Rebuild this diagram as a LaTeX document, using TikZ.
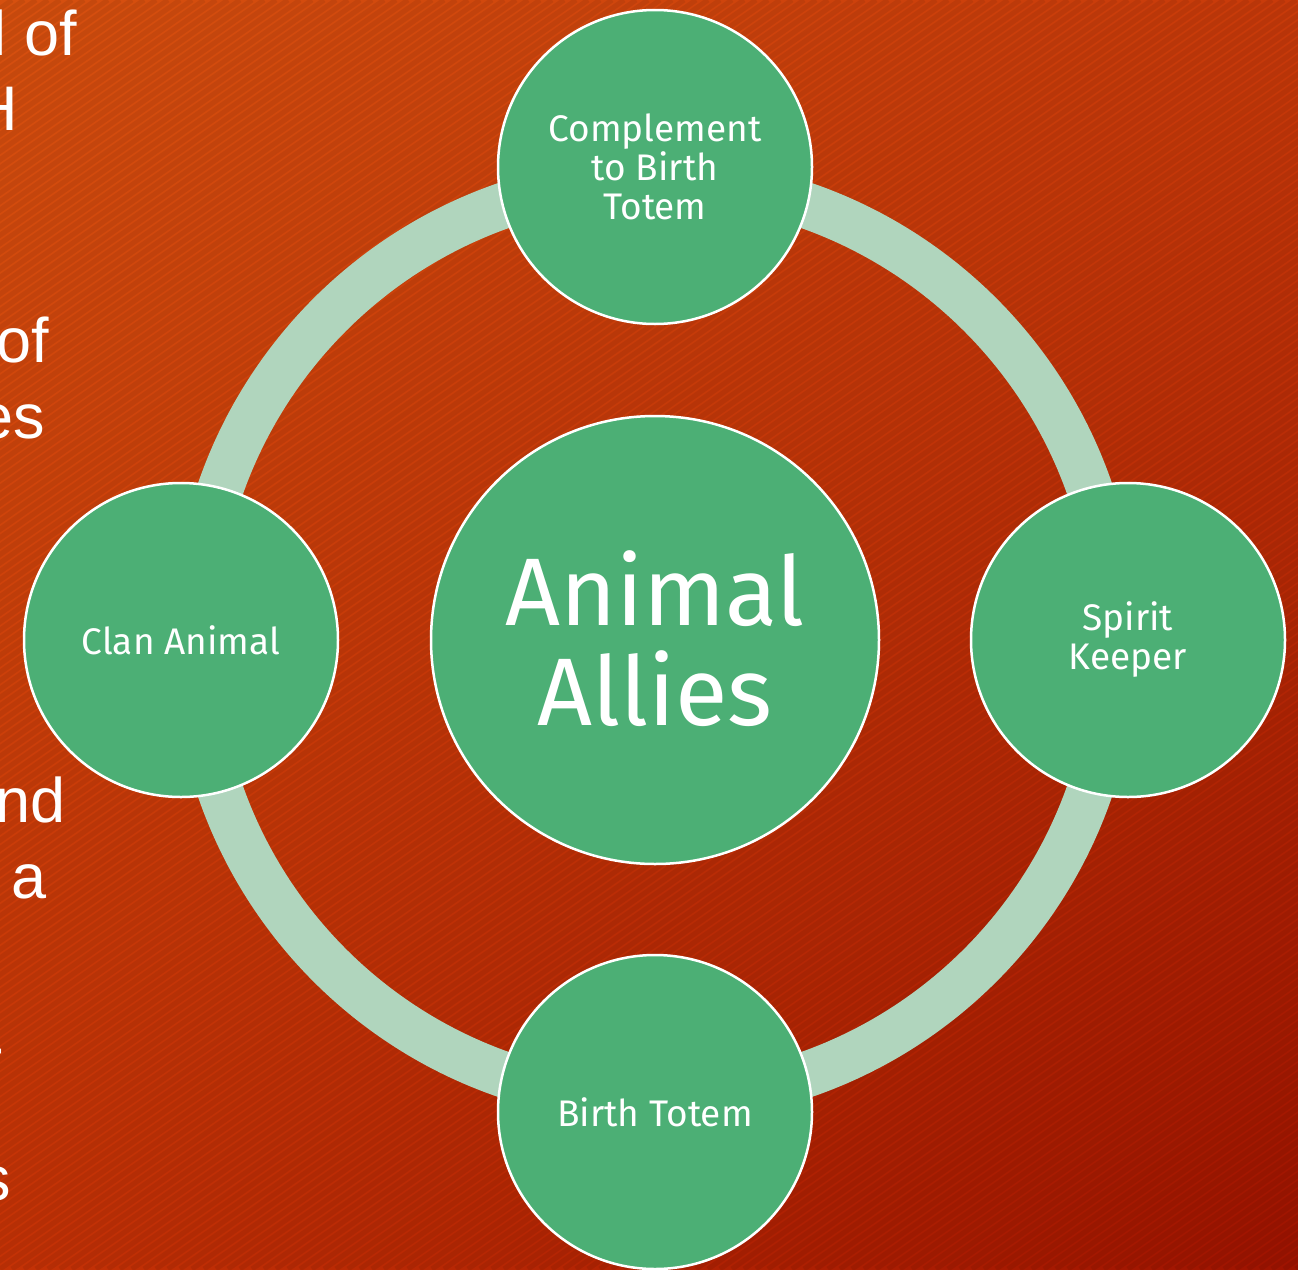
\documentclass[tikz,border=0pt]{standalone}
\usepackage{fontspec}
\usetikzlibrary{shadings}
\setmainfont{Fira Sans}
\newfontfamily\leftfont{Liberation Sans}
\definecolor{bgUL}{HTML}{D6500F}
\definecolor{bgUR}{HTML}{C83A0A}
\definecolor{bgLL}{HTML}{C43206}
\definecolor{bgLR}{HTML}{9E1300}
\definecolor{ringc}{HTML}{B0D5BD}
\definecolor{bubc}{HTML}{4CAF75}
\tikzset{
  bub/.style={circle, fill=bubc, draw=white, line width=2.5pt, text=white, align=center, inner sep=0pt},
  small/.style={font=\fontsize{37}{39}\selectfont},
  big/.style={font=\fontsize{96}{100}\selectfont},
  side/.style={text=white, anchor=base east, inner sep=0pt, font=\leftfont\fontsize{63}{76}\selectfont},
}
\begin{document}
\begin{tikzpicture}[x=1pt,y=-1pt]
\useasboundingbox (0,0) rectangle (1298,1269);
\begin{scope}
\clip (0,0) rectangle (1298,1269);
\shade[upper left=bgUL, upper right=bgUR, lower left=bgLL, lower right=bgLR] (0,0) rectangle (1298,1269);
\foreach \i in {-150,...,110} {
  \draw[black, opacity=0.07, line width=5pt] (\i*12,1269) -- (\i*12+1812,0);
}
% left cut-off text
\node[side] (t1) at (77,55) {l of};
\node[side] (t2) at (18,130) {H};
\node[side] (t3) at (49,362) {of};
\node[side] (t4) at (45,438) {es};
\node[side] (t5) at (66,822) {nd};
\node[side] (t6) at (47,898) {a};
\node[side] (t7) at (3,1092) {T};
\node[side] (t8) at (11,1200) {s};
\end{scope}
% ring
\coordinate (c) at (655,640);
\draw[ringc, line width=46pt] (c) circle[radius=460pt];
% nodes
\node[bub, big, minimum size=448pt] (center) at (c) {\raisebox{4pt}{Animal}\\\raisebox{4pt}{Allies}};
\node[bub, small, minimum size=314pt] (top) at (655,167) {Complement\\to Birth\\Totem};
\node[bub, small, minimum size=314pt] (left) at (181,640) {Clan Animal};
\node[bub, small, minimum size=314pt] (right) at (1128,640) {Spirit\\Keeper};
\node[bub, small, minimum size=314pt] (bottom) at (655,1112) {Birth Totem};
\end{tikzpicture}
\end{document}
